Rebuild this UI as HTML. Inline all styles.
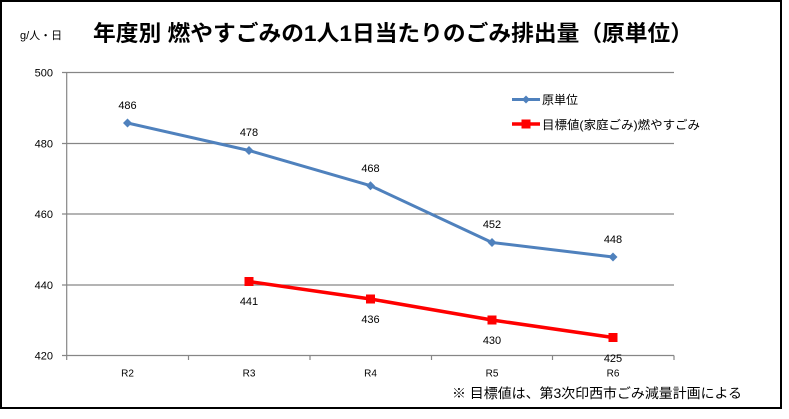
<!DOCTYPE html>
<html><head><meta charset="utf-8"><style>
html,body{margin:0;padding:0;background:#fff;}
svg{display:block;}
text{font-family:"Liberation Sans","Noto Sans CJK JP",sans-serif;fill:#000;}
</style></head><body>
<svg width="789" height="419" viewBox="0 0 789 419" xmlns="http://www.w3.org/2000/svg">
<rect x="0" y="0" width="789" height="419" fill="#fff"/>
<rect x="1" y="1" width="780" height="407" fill="#fff" stroke="#000" stroke-width="2"/>
<text x="93" y="41" font-size="22" font-weight="bold" textLength="600" lengthAdjust="spacingAndGlyphs">年度別 燃やすごみの1人1日当たりのごみ排出量（原単位）</text>
<text x="20" y="39" font-size="11">g/人・日</text>
<g stroke="#868686" stroke-width="1.2" fill="none">
<line x1="62" y1="72.5" x2="674" y2="72.5"/>
<line x1="62" y1="143.5" x2="674" y2="143.5"/>
<line x1="62" y1="214" x2="674" y2="214"/>
<line x1="62" y1="285" x2="674" y2="285"/>
<line x1="62" y1="355.5" x2="674" y2="355.5"/>
<line x1="66.7" y1="72.5" x2="66.7" y2="360"/>
<line x1="188.5" y1="355.5" x2="188.5" y2="360"/>
<line x1="310" y1="355.5" x2="310" y2="360"/>
<line x1="431.5" y1="355.5" x2="431.5" y2="360"/>
<line x1="552.5" y1="355.5" x2="552.5" y2="360"/>
<line x1="674" y1="355.5" x2="674" y2="360"/>
</g>
<g font-size="11" text-anchor="end">
<text x="53" y="76.5">500</text>
<text x="53" y="147.5">480</text>
<text x="53" y="218">460</text>
<text x="53" y="289">440</text>
<text x="53" y="359.5">420</text>
</g>
<g font-size="10" text-anchor="middle">
<text x="127.5" y="376.5">R2</text>
<text x="249" y="376.5">R3</text>
<text x="370.5" y="376.5">R4</text>
<text x="492" y="376.5">R5</text>
<text x="613" y="376.5">R6</text>
</g>
<polyline points="127.5,123 249,150.5 370.5,185.7 492,242.5 613,257" fill="none" stroke="#4F81BD" stroke-width="3" stroke-linejoin="round"/>
<g fill="#4F81BD">
<polygon points="127.5,118.5 132,123 127.5,127.5 123,123"/>
<polygon points="249,146 253.5,150.5 249,155 244.5,150.5"/>
<polygon points="370.5,181.2 375,185.7 370.5,190.2 366,185.7"/>
<polygon points="492,238 496.5,242.5 492,247 487.5,242.5"/>
<polygon points="613,252.5 617.5,257 613,261.5 608.5,257"/>
</g>
<polyline points="249,281.5 370.5,299 492,320 613,337.5" fill="none" stroke="#FF0000" stroke-width="3.5" stroke-linejoin="round"/>
<g fill="#FF0000">
<rect x="244.5" y="277" width="9" height="9"/>
<rect x="366" y="294.5" width="9" height="9"/>
<rect x="487.5" y="315.5" width="9" height="9"/>
<rect x="608.5" y="333" width="9" height="9"/>
</g>
<g font-size="11" text-anchor="middle">
<text x="127.5" y="109">486</text>
<text x="249" y="136">478</text>
<text x="370.5" y="172">468</text>
<text x="492" y="228">452</text>
<text x="613" y="243">448</text>
<text x="249" y="305">441</text>
<text x="370.5" y="323">436</text>
<text x="492" y="344">430</text>
<text x="613" y="362">425</text>
</g>
<line x1="512" y1="99.5" x2="540" y2="99.5" stroke="#4F81BD" stroke-width="3"/>
<polygon points="526,95.5 530,99.5 526,103.5 522,99.5" fill="#4F81BD"/>
<text x="542" y="104" font-size="12">原単位</text>
<line x1="512" y1="124" x2="540" y2="124" stroke="#FF0000" stroke-width="3.5"/>
<rect x="521.5" y="119.5" width="9" height="9" fill="#FF0000"/>
<text x="542" y="129" font-size="12" textLength="158" lengthAdjust="spacingAndGlyphs">目標値(家庭ごみ)燃やすごみ</text>
<text x="452" y="398" font-size="13.5" textLength="290" lengthAdjust="spacingAndGlyphs">※ 目標値は、第3次印西市ごみ減量計画による</text>
</svg>
</body></html>
